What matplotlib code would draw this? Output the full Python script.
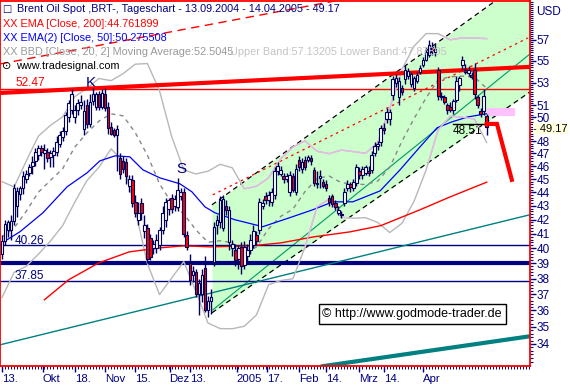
import matplotlib
matplotlib.use("Agg")
import matplotlib.pyplot as plt
from matplotlib.ticker import FixedLocator, NullFormatter
import numpy as np

# daily candles, Brent 13.09.2004 - 14.04.2005
opens = [39.6, 40.5, 41.3, 41.3, 41.9, 43.0, 43.9, 44.3, 45.0, 45.5, 46.0, 46.4, 46.9, 47.4, 47.0, 47.1, 46.7, 46.9, 47.1, 47.8,
         48.3, 48.8, 50.0, 50.6, 50.0, 50.6, 51.0, 49.0, 51.0, 49.4, 51.4, 50.9, 52.0, 50.9, 52.0, 50.9, 49.2, 48.9, 48.5, 46.6,
         46.4, 46.3, 44.5, 44.9, 43.3, 42.0, 43.2, 41.2, 41.4, 40.7, 40.0, 40.0, 40.2, 41.3, 42.0, 42.8, 43.6, 43.0, 42.9, 43.7,
         44.0, 40.9, 39.0, 38.2, 38.4, 37.0, 37.0, 38.7, 36.0, 36.6, 39.1, 41.6, 41.8, 41.4, 43.0, 40.4, 40.0, 39.9, 39.3, 40.1,
         38.9, 39.5, 39.9, 40.2, 40.9, 41.3, 43.0, 43.7, 43.4, 43.3, 43.8, 45.6, 45.4, 45.2, 45.0, 44.0, 45.2, 44.0, 46.5, 45.8,
         46.5, 46.5, 46.6, 45.7, 44.6, 45.1, 44.8, 44.6, 43.6, 43.7, 43.2, 42.5, 42.4, 43.2, 44.3, 44.6, 44.3, 44.7, 45.6, 45.3,
         45.5, 45.6, 45.7, 47.0, 47.6, 47.9, 49.1, 49.8, 49.8, 51.9, 53.0, 51.7, 52.5, 53.3, 53.6, 52.9, 52.5, 53.2, 54.0, 54.6,
         55.1, 55.6, 56.3, 55.8, 54.2, 51.8, 51.7, 51.0, 50.9, 50.6, 51.5, 52.8, 54.6, 54.2, 53.9, 53.7, 54.2, 51.7, 50.5, 50.5,
         50.1]
highs = [40.9, 42.0, 42.0, 42.3, 44.6, 44.4, 44.5, 45.6, 45.7, 46.2, 46.8, 47.4, 47.7, 47.7, 47.8, 47.4, 47.3, 47.5, 48.4, 48.8,
         49.2, 50.4, 51.5, 52.4, 51.0, 51.6, 51.9, 51.5, 51.6, 52.0, 52.5, 52.2, 52.3, 52.4, 52.5, 51.3, 49.6, 49.1, 49.3, 47.0,
         46.8, 46.6, 45.3, 45.3, 43.8, 43.3, 43.6, 42.3, 41.7, 41.0, 40.6, 41.0, 41.5, 43.0, 43.6, 43.6, 43.9, 43.8, 45.1, 44.3,
         44.3, 41.2, 39.6, 38.8, 38.6, 38.0, 38.6, 39.5, 36.9, 37.3, 41.8, 42.3, 43.7, 43.8, 43.4, 43.0, 40.6, 40.3, 40.2, 40.4,
         40.5, 40.3, 41.0, 41.6, 41.2, 43.6, 43.5, 44.0, 44.1, 44.3, 45.9, 46.3, 46.0, 45.5, 45.5, 45.6, 45.5, 46.2, 46.8, 46.6,
         46.8, 46.9, 46.9, 45.9, 45.6, 45.7, 45.0, 44.9, 43.8, 43.9, 43.4, 43.0, 42.6, 44.3, 44.9, 44.8, 45.0, 46.2, 45.9, 46.0,
         46.1, 46.0, 47.2, 47.9, 48.0, 49.3, 49.5, 50.8, 50.7, 53.6, 53.8, 53.5, 52.8, 54.6, 54.3, 54.0, 53.6, 54.0, 54.6, 55.4,
         56.3, 57.0, 56.8, 56.6, 54.4, 52.2, 51.9, 51.2, 51.3, 51.6, 53.6, 53.6, 55.5, 54.7, 54.5, 54.0, 54.8, 51.9, 50.8, 52.4,
         50.3]
lows = [39.3, 40.2, 40.8, 40.6, 41.6, 42.2, 43.4, 43.9, 44.7, 45.2, 45.4, 46.0, 46.5, 46.8, 45.8, 46.3, 45.9, 45.9, 46.8, 47.5,
        48.0, 48.5, 49.6, 50.3, 49.5, 50.2, 50.7, 48.5, 49.1, 49.2, 51.0, 50.6, 50.6, 50.7, 50.5, 48.6, 48.5, 48.3, 45.6, 45.0,
        45.5, 44.6, 44.0, 42.9, 42.2, 41.6, 42.0, 40.7, 39.0, 39.2, 39.6, 39.7, 39.9, 41.0, 41.5, 42.3, 42.5, 42.6, 42.6, 43.4,
        40.8, 39.9, 37.6, 37.8, 36.8, 35.7, 36.5, 35.9, 35.6, 35.8, 38.8, 41.0, 41.4, 41.2, 42.3, 39.9, 39.5, 38.8, 38.6, 38.3,
        38.6, 39.1, 39.6, 40.0, 40.2, 41.0, 42.8, 43.1, 43.0, 43.0, 43.5, 45.3, 45.2, 44.7, 44.8, 43.7, 44.0, 43.8, 45.6, 45.5,
        45.7, 46.3, 46.1, 44.5, 44.3, 44.3, 44.3, 44.1, 43.0, 42.9, 42.7, 42.3, 42.1, 43.0, 44.1, 44.0, 44.1, 44.5, 45.0, 45.0,
        45.3, 45.2, 45.5, 46.8, 47.3, 47.6, 48.6, 49.5, 49.3, 51.5, 52.6, 51.0, 51.9, 52.9, 53.3, 52.6, 52.3, 53.0, 53.8, 54.4,
        55.0, 55.4, 55.6, 55.5, 51.5, 51.5, 51.1, 50.3, 50.4, 50.3, 51.3, 52.3, 54.2, 53.8, 53.6, 53.3, 51.6, 50.8, 50.0, 50.2,
        48.5]
closes = [40.5, 41.7, 41.8, 41.9, 44.3, 44.1, 44.3, 45.2, 45.4, 45.9, 46.3, 47.1, 47.4, 47.1, 47.3, 46.6, 47.0, 47.2, 47.9, 48.5,
          48.8, 50.2, 51.2, 52.0, 50.6, 51.2, 51.3, 50.5, 49.4, 51.3, 52.0, 52.0, 50.9, 52.1, 50.8, 49.1, 48.6, 48.5, 49.0, 45.4,
          45.8, 45.2, 45.0, 43.2, 42.5, 42.5, 42.5, 41.6, 39.3, 39.4, 40.3, 40.6, 41.3, 42.5, 43.3, 43.4, 42.8, 43.5, 44.2, 44.0,
          41.0, 40.1, 37.9, 38.5, 37.0, 37.7, 38.2, 36.0, 36.6, 36.8, 41.5, 42.0, 43.4, 43.5, 42.7, 42.7, 40.3, 39.2, 40.0, 38.8,
          40.1, 39.9, 40.6, 41.2, 40.5, 43.3, 43.2, 43.4, 43.8, 44.0, 45.6, 46.0, 45.7, 45.0, 45.2, 45.3, 44.2, 45.8, 45.9, 46.3,
          45.9, 46.7, 46.4, 44.7, 44.7, 45.2, 44.5, 44.3, 43.3, 43.1, 42.9, 42.7, 42.3, 44.0, 44.6, 44.4, 44.8, 45.9, 45.3, 45.8,
          45.9, 45.5, 46.9, 47.6, 47.8, 49.1, 48.9, 50.4, 50.4, 53.3, 53.4, 53.2, 52.2, 54.2, 54.1, 53.8, 53.4, 53.7, 54.3, 55.1,
          55.8, 56.5, 55.8, 56.1, 51.8, 51.7, 51.3, 50.6, 50.6, 51.4, 53.2, 53.4, 55.1, 54.0, 54.2, 53.5, 52.0, 51.0, 50.3, 51.8,
          49.17]

# moving averages (bar index, value)
ema200_x = [14, 22, 32, 42, 52, 60, 69, 82, 92, 103, 115, 125, 138, 148, 160]
ema200_y = [36.65, 37.92, 39.03, 39.76, 40.03, 40.17, 40.10, 40.17, 40.37, 40.79, 41.14, 41.57, 42.71, 43.66, 44.76]
ema50_x = [0, 5.9, 13.5, 21.5, 28.1, 32.3, 37.3, 42.2, 46.5, 52.1, 58.7, 62.7, 67.0, 70.3, 76.9, 86.1, 95.0, 102.6,
           109.2, 115.8, 124.8, 131.4, 138.0, 143.6, 148.5, 153.8, 160]
ema50_y = [40.37, 41.14, 42.49, 44.41, 45.48, 46.41, 46.81, 46.73, 45.71, 45.09, 44.64, 44.03, 42.92, 42.49, 41.99,
           41.50, 42.14, 42.71, 43.29, 43.29, 44.10, 45.71, 47.53, 49.09, 49.59, 50.01, 50.28]

# bollinger bands (20, 2), every 4th bar
bb_x = [0, 4, 8, 12, 16, 20, 24, 28, 32, 36, 40, 44, 48, 52, 56, 60, 64, 68, 72, 76,
        80, 84, 88, 92, 96, 100, 104, 108, 112, 116, 120, 124, 128, 132, 136, 140, 144, 148, 152, 156, 160]
bb_mid = [40.8, 41.4, 42.6, 44.0, 44.9, 45.79, 47.50, 48.67, 49.65, 50.28, 50.10, 48.69, 46.86, 44.64, 43.20, 42.40,
          41.28, 40.41, 40.52, 40.38, 39.65, 40.09, 41.35, 42.23, 42.75, 44.04, 45.05, 45.23, 44.72, 44.62, 44.58,
          44.84, 45.91, 47.97, 49.86, 51.65, 53.27, 53.55, 53.60, 53.50, 52.50]
bb_up = [44.8, 44.4, 46.4, 48.4, 49.3, 50.01, 51.76, 52.48, 53.39, 53.19, 53.83, 54.70, 54.76, 52.29, 48.38, 45.70,
         45.39, 45.60, 46.14, 45.87, 44.26, 44.45, 45.09, 46.58, 47.52, 48.02, 47.18, 46.98, 47.27, 47.15, 47.01,
         47.88, 50.74, 54.21, 56.39, 57.62, 57.61, 57.01, 57.21, 57.18, 57.13]
bb_lo = [36.8, 38.4, 38.8, 39.6, 40.5, 41.57, 43.25, 44.87, 45.91, 47.37, 46.36, 42.68, 38.97, 36.98, 38.03, 39.11,
         37.18, 35.23, 34.90, 34.89, 35.04, 35.72, 37.60, 37.87, 37.98, 40.06, 42.93, 43.49, 42.17, 42.10, 42.14,
         41.80, 41.09, 41.73, 43.32, 45.69, 48.94, 50.08, 49.98, 49.83, 47.88]

# x axis
xtick_pos = [0, 13.5, 24, 34, 44, 55.3, 62, 77.5, 87.5, 98, 107, 118, 126, 139]
xtick_lab = ["13.", "Okt", "18.", "Nov", "15.", "Dez", "13.", "2005", "17.", "Feb", "14.", "Mrz", "14.", "Apr"]
ytick_pos = [34, 35, 36, 37, 38, 39, 40, 41, 42, 43, 44, 45, 46, 47, 48, 50, 51, 53, 55, 57]

# drawn studies: [x0, x1], [y0, y1]
chan_x = [69.3, 174.3]
chan_up = [43.07, 63.55]
chan_lo = [35.85, 52.18]
fan_red_x = [69.6, 173.6]
fan_red_y = [43.81, 57.19]
fan_green_x = [69.6, 174.3]
fan_green_y = [36.03, 55.66]
teal_x = [-0.66, 174.3]
teal_y = [33.95, 42.35]
teal2_x = [105.9, 173.6]
teal2_y = [32.74, 34.43]
res_x = [-0.66, 174.3]
res_y = [52.09, 54.45]
dash_x = [-0.66, 111.6]
dash_y = [54.72, 61.0]
arrow_x = [160.0, 163.4, 168.3]
arrow_y = [49.42, 49.42, 44.94]
box_x = [160.1, 169.3]
box_y = [50.1, 50.78]
low_x = [148.8, 160.1]
low_y = [49.42, 49.42]
hlines_thin = [52.47]
navy_thin = [40.26, 37.85]
navy_thick = [39.0]

plt.rcParams['font.family'] = ['Liberation Sans', 'DejaVu Sans']
NAVY = "#000080"
EDGE = "#00005a"

fig = plt.figure(figsize=(5.7, 3.86), dpi=100)
ax = fig.add_axes([0.0, 1 - 366 / 386, 530 / 570, 365 / 386])
ax.set_yscale("log")

o = np.array(opens)
h = np.array(highs)
l = np.array(lows)
c = np.array(closes)
idx = np.arange(len(c))

# green channel
chan = ax.fill_between(chan_x, chan_lo, chan_up, color="#ccffcc", lw=0, zorder=0)
ax.plot(chan_x, chan_up, color="black", lw=0.9, ls=(0, (4, 3)), zorder=2)
ax.plot(chan_x, chan_lo, color="black", lw=0.9, ls=(0, (4, 3)), zorder=2)
ax.plot(fan_red_x, fan_red_y, color="red", lw=0.9, ls=(0, (2, 3)), zorder=2)
ax.plot(fan_green_x, fan_green_y, color="#009966", lw=0.8, zorder=2)

for v in navy_thin:
    ax.axhline(v, color=NAVY, lw=1, zorder=2)
for v in navy_thick:
    ax.axhline(v, color=NAVY, lw=3, zorder=2)
for v in hlines_thin:
    ax.axhline(v, color="red", lw=1, zorder=2)

ax.plot(teal_x, teal_y, color="#008080", lw=1, zorder=2)
ax.plot(teal2_x, teal2_y, color="#008080", lw=3, zorder=2)
ax.plot(dash_x, dash_y, color="red", lw=1, ls=(0, (6, 4)), zorder=2)

# bands: gray on white, pinkish inside the channel
for band in (bb_up, bb_lo):
    ax.plot(bb_x, band, color="#b8b8b8", lw=1, zorder=3)
    pink, = ax.plot(bb_x, band, color="#eab8ea", lw=1, zorder=3.1)
    pink.set_clip_path(chan.get_paths()[0], ax.transData)
ax.plot(bb_x, bb_mid, color="#888888", lw=1, ls=(0, (3, 3)), zorder=3)

ax.plot(ema200_x, ema200_y, color="red", lw=1, zorder=3)
ax.plot(ema50_x, ema50_y, color="blue", lw=0.9, zorder=3)
ax.plot(res_x, res_y, color="red", lw=3, zorder=4)

# candles
ax.vlines(idx, l, h, color=EDGE, lw=1, zorder=5)
upc = c >= o
bot = np.minimum(o, c)
hgt = np.maximum(np.abs(c - o), 0.08)
ax.bar(idx[upc], hgt[upc], bottom=bot[upc], width=0.85, color="white", edgecolor=EDGE, lw=0.8, zorder=6)
ax.bar(idx[~upc], hgt[~upc], bottom=bot[~upc], width=0.85, color="red", edgecolor=EDGE, lw=0.8, zorder=6)

# projection
ax.fill_between(box_x, box_y[0], box_y[1], color="#ffc0ff", lw=0, zorder=4)
ax.plot(low_x, low_y, color="black", lw=1, zorder=4)
ax.plot(arrow_x, arrow_y, color="red", lw=3, zorder=7, solid_joinstyle="miter")

ax.set_xlim(-0.66, 174.3)
ax.set_ylim(32.75, 60.9)

# annotations
ax.text(4.3, 52.95, "52.47", color="red", fontsize=8.5, va="center", ha="left")
ax.text(4.3, 40.51, "40.26", color=NAVY, fontsize=8.5, va="center", ha="left")
ax.text(4.3, 38.18, "37.85", color=NAVY, fontsize=8.5, va="center", ha="left")
ax.text(29.2, 53.0, "K", color=NAVY, fontsize=11, va="center", ha="center")
ax.text(59.2, 45.77, "S", color=NAVY, fontsize=11, va="center", ha="center")
ax.text(153.6, 48.8, "48.51", color="black", fontsize=8.5, va="center", ha="center")

# axes styling
for s in ax.spines.values():
    s.set_color("red")
    s.set_linewidth(1.3)
ax.yaxis.tick_right()
ax.yaxis.set_major_locator(FixedLocator(ytick_pos))
ax.yaxis.set_minor_locator(FixedLocator(np.arange(33, 61, 0.2)))
ax.yaxis.set_minor_formatter(NullFormatter())
ax.set_yticklabels([str(v) for v in ytick_pos])
ax.tick_params(axis="y", which="major", colors=NAVY, length=4, width=1, pad=1, labelsize=8.5)
ax.tick_params(axis="y", which="minor", colors=NAVY, length=2, width=0.8)
ax.xaxis.set_major_locator(FixedLocator(xtick_pos))
ax.xaxis.set_minor_locator(FixedLocator(np.arange(0, 175, 1)))
ax.set_xticklabels(xtick_lab)
for t in ax.get_xticklabels():
    t.set_horizontalalignment("left")
ax.tick_params(axis="x", which="major", colors=NAVY, length=4, width=1, pad=2, labelsize=8.2)
ax.tick_params(axis="x", which="minor", colors=NAVY, length=2, width=0.7)


def fx(px):
    return px / 570


def fy(py):
    return 1 - py / 386


fig.text(fx(536), fy(12), "USD", color=NAVY, fontsize=8.5, va="center")
fig.text(fx(533), fy(128.5), "- 49.17", color="black", fontsize=8, va="center",
         bbox=dict(boxstyle="square,pad=0.02", fc="#ffffe0", ec="none"))

fs = 7.8
fig.text(fx(2), fy(9), "\u25a1", color=NAVY, fontsize=7, va="center", family="DejaVu Sans")
fig.text(fx(17), fy(9), "Brent Oil Spot ,BRT-, Tageschart - 13.09.2004 - 14.04.2005 - 49.17", color=NAVY, fontsize=fs, va="center")
fig.text(fx(3), fy(24), "XX EMA [Close, 200]:44.761899", color="red", fontsize=fs, va="center")
fig.text(fx(3), fy(38), "XX EMA(2) [Close, 50]:50.275508", color="blue", fontsize=fs, va="center")
fig.text(fx(3), fy(52), "XX BBD [Close, 20, 2] Moving Average:52.5045", color="#999999", fontsize=fs, va="center")
fig.text(fx(230), fy(52), "Upper Band:57.13205 Lower Band:47.87895", color="#c4c4c4", fontsize=fs, va="center")
fig.text(fx(2), fy(66), "\u2299", color="black", fontsize=8, va="center", family="DejaVu Sans")
fig.text(fx(16), fy(66), "www.tradesignal.com", color="black", fontsize=fs, va="center")
fig.text(fx(412), fy(314), "\u00a9 http://www.godmode-trader.de", color="black", fontsize=9, va="center", ha="center",
         bbox=dict(boxstyle="square,pad=0.3", fc="white", ec="black", lw=1))

fig.savefig("out.png", dpi=100)
